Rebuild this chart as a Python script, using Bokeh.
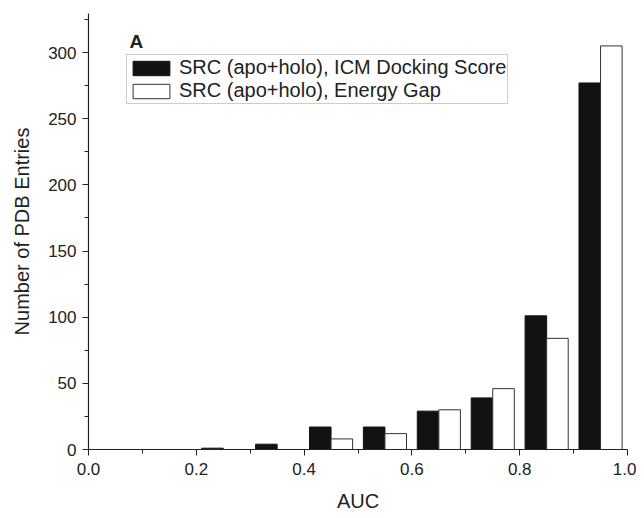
from bokeh.plotting import figure
from bokeh.models import (ColumnDataSource, FixedTicker, Legend, LegendItem, Label,
                          Range1d, PrintfTickFormatter)
from bokeh.transform import dodge
from bokeh.embed import file_html
from bokeh.resources import INLINE

# Data
bins = [0.0, 0.1, 0.2, 0.3, 0.4, 0.5, 0.6, 0.7, 0.8, 0.9]
icm_docking = [0, 0, 1, 4, 17, 17, 29, 39, 101, 277]
energy_gap = [0, 0, 0, 0, 8, 12, 30, 46, 84, 305]
x_ticks = [0.0, 0.2, 0.4, 0.6, 0.8, 1.0]
x_minor = [0.1, 0.3, 0.5, 0.7, 0.9]
y_ticks = [0, 50, 100, 150, 200, 250, 300]
y_minor = [25, 75, 125, 175, 225, 275, 325]
series_names = ["SRC (apo+holo), ICM Docking Score", "SRC (apo+holo), Energy Gap"]

src = ColumnDataSource(dict(bin=bins, icm=icm_docking, gap=energy_gap))

FONT = "Liberation Sans"
TXT = "#222222"

p = figure(width=636, height=514, output_backend="svg", toolbar_location=None,
           x_range=Range1d(0, 1.0), y_range=Range1d(0, 329.5),
           min_border_left=88, min_border_right=9, min_border_top=13,
           min_border_bottom=62)
p.outline_line_color = None
p.xgrid.visible = False
p.ygrid.visible = False
p.background_fill_color = "white"
p.border_fill_color = "white"

bw = 0.04
r1 = p.vbar(x=dodge("bin", 0.03, range=p.x_range), top="icm", width=bw, source=src,
            fill_color="#121212", line_color="#121212", line_width=1)
r2 = p.vbar(x=dodge("bin", 0.07, range=p.x_range), top="gap", width=bw, source=src,
            fill_color="white", line_color="#333333", line_width=1)

# Axes
for ax in (p.xaxis[0], p.yaxis[0]):
    ax.axis_line_color = TXT
    ax.axis_line_width = 1.2
    ax.major_tick_line_color = TXT
    ax.minor_tick_line_color = TXT
    ax.major_tick_out = 6
    ax.major_tick_in = 0
    ax.minor_tick_out = 4
    ax.minor_tick_in = 0
    ax.major_label_text_font = FONT
    ax.major_label_text_font_size = "17px"
    ax.major_label_text_color = TXT
    ax.axis_label_text_font = FONT
    ax.axis_label_text_font_size = "20px"
    ax.axis_label_text_font_style = "normal"
    ax.axis_label_text_color = TXT

p.xaxis.ticker = FixedTicker(ticks=x_ticks, minor_ticks=x_minor)
p.xaxis.formatter = PrintfTickFormatter(format="%.1f")
p.xaxis.axis_label = "AUC"
p.xaxis.major_label_standoff = 7
p.xaxis.axis_label_standoff = 12

p.yaxis.ticker = FixedTicker(ticks=y_ticks, minor_ticks=y_minor)
p.yaxis.axis_label = "Number of PDB Entries"
p.yaxis.major_label_standoff = 6
p.yaxis.axis_label_standoff = 12

legend = Legend(items=[LegendItem(label=series_names[0], renderers=[r1]),
                       LegendItem(label=series_names[1], renderers=[r2])],
                location=(38, 345), glyph_width=46, glyph_height=18,
                label_text_font=FONT, label_text_font_size="20px",
                label_text_color=TXT, label_standoff=5, padding=1, spacing=0,
                margin=0, border_line_color="#999999", border_line_width=1,
                label_height=20, background_fill_alpha=1)
p.add_layout(legend, "center")

p.add_layout(Label(x=0.076, y=308, text="A", text_font=FONT, text_font_size="19px",
                   text_font_style="bold", text_color=TXT, text_baseline="alphabetic"))

open("out.html", "w").write(file_html(p, INLINE))
